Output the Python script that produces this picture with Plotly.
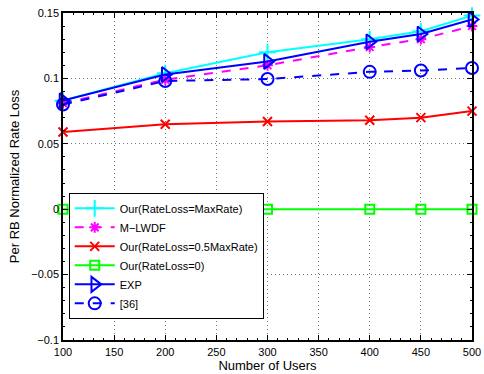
import plotly.graph_objects as go

users = [100, 200, 300, 400, 450, 500]
our_max = [0.083, 0.104, 0.120, 0.130, 0.136, 0.148]
mlwdf = [0.081, 0.099, 0.110, 0.124, 0.130, 0.140]
our_half = [0.059, 0.065, 0.067, 0.068, 0.070, 0.075]
our_zero = [0, 0, 0, 0, 0, 0]
exp_vals = [0.083, 0.103, 0.113, 0.128, 0.134, 0.145]
ref36 = [0.080, 0.098, 0.0995, 0.105, 0.106, 0.108]

x_ticks = [100, 150, 200, 250, 300, 350, 400, 450, 500]
y_ticks = [-0.1, -0.05, 0, 0.05, 0.1, 0.15]
y_ticklabels = ["\u22120.1", "\u22120.05", "0", "0.05", "0.1", "0.15"]

series = [
    ("Our(RateLoss=MaxRate)", our_max, "#00FFFF", "solid", "cross-thin-open", 12),
    ("M\u2212LWDF", mlwdf, "#FF00FF", "dash", "asterisk-open", 9),
    ("Our(RateLoss=0.5MaxRate)", our_half, "#FF0000", "solid", "x-thin-open", 9),
    ("Our(RateLoss=0)", our_zero, "#00FF00", "solid", "square-open", 9),
    ("EXP", exp_vals, "#0000FF", "solid", "triangle-right-open", 13),
    ("[36]", ref36, "#0000FF", "dash", "circle-open", 12),
]

fig = go.Figure()
for name, vals, color, dash, sym, size in series:
    fig.add_trace(go.Scatter(
        x=users, y=vals, name=name, mode="lines+markers",
        line=dict(color=color, width=2, dash=dash),
        marker=dict(symbol=sym, size=size, color=color, line=dict(color=color, width=2)),
        cliponaxis=False,
    ))

ff = "Liberation Sans, Arial, sans-serif"
axis_common = dict(
    showline=True, linecolor="black", linewidth=1.5, mirror="ticks",
    ticks="inside", ticklen=5, tickcolor="black",
    showgrid=True, gridcolor="#777777", griddash="1px,3px", gridwidth=1,
    zeroline=False, tickfont=dict(family=ff, size=11, color="black"),
    ticklabeloverflow="allow",
)
fig.update_layout(
    width=484, height=374,
    margin=dict(l=63, r=3, t=13, b=34),
    paper_bgcolor="white", plot_bgcolor="white",
    font=dict(family=ff, size=11, color="black"),
    showlegend=True,
    legend=dict(x=0.014, y=0.45, xanchor="left", yanchor="top",
                bgcolor="white", bordercolor="black", borderwidth=1,
                font=dict(family=ff, size=11),
                tracegroupgap=0, itemwidth=40),
    xaxis=dict(range=[100, 500], tickvals=x_ticks,
               title=dict(text="Number of Users", standoff=3, font=dict(size=13)),
               minor=dict(ticks="inside", ticklen=2, dtick=10, tickcolor="black", showgrid=False),
               ticklabelstandoff=1,
               **axis_common),
    yaxis=dict(range=[-0.1, 0.15], tickvals=y_ticks, ticktext=y_ticklabels,
               title=dict(text="Per RB Normalized Rate Loss", standoff=9, font=dict(size=13)),
               minor=dict(ticks="inside", ticklen=2, dtick=0.01, tickcolor="black", showgrid=False),
               **axis_common),
)
fig.write_html("out.html", config={"displayModeBar": False},
               post_script="document.body.style.margin='0';document.body.style.overflow='hidden';")
